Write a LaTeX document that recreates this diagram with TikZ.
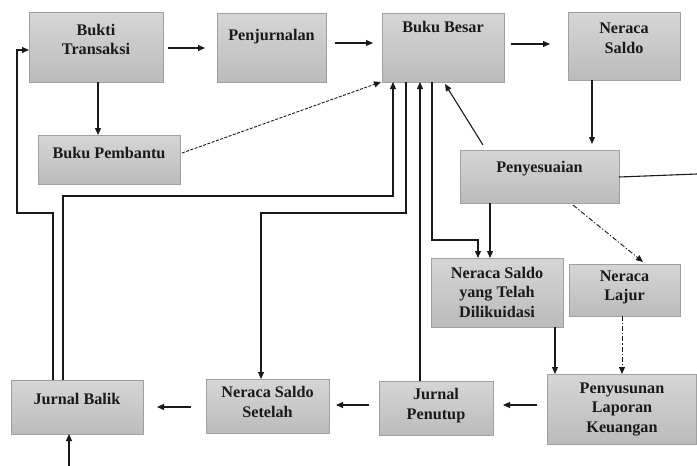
\documentclass[tikz,border=0pt]{standalone}
\usepackage{fontspec}
\setmainfont{Liberation Serif}
\usetikzlibrary{arrows.meta,calc}
\definecolor{ln}{HTML}{1A1A1A}
\definecolor{bxd}{HTML}{A0A0A0}
\definecolor{bxt}{HTML}{D6D6D6}
\definecolor{bxb}{HTML}{BBBBBB}
\tikzset{
  boxst/.style={draw=bxd, line width=0.6pt, top color=bxt, bottom color=bxb, inner sep=0pt, outer sep=0pt},
  txt/.style={align=center, text=ln, font=\fontsize{16.2}{19.5}\selectfont\bfseries, inner sep=0pt},
  arr/.style={draw=ln, line width=1.1pt, -{Triangle[length=7pt,width=6pt]}},
  ln1/.style={draw=ln, line width=1.1pt},
  dsh/.style={arr, line width=0.9pt, dash pattern=on 3pt off 1.5pt},
  dd/.style={arr, line width=0.9pt, dash pattern=on 5pt off 2pt on 1.2pt off 2pt}
}
\begin{document}
\begin{tikzpicture}[x=1pt,y=-1pt]
\useasboundingbox (0,0) rectangle (697,466);
% boxes
\node[boxst, minimum width=134pt, minimum height=70pt] (bt) at (96,47) {};
\node[boxst, minimum width=109pt, minimum height=69pt] (pj) at (271.5,47.5) {};
\node[boxst, minimum width=122pt, minimum height=69pt] (bb) at (443,47.5) {};
\node[boxst, minimum width=112pt, minimum height=68pt] (ns) at (624,46) {};
\node[boxst, minimum width=142pt, minimum height=49pt] (bp) at (109,159.5) {};
\node[boxst, minimum width=159pt, minimum height=53pt] (py) at (539.5,176.5) {};
\node[boxst, minimum width=132pt, minimum height=69pt] (nstd) at (497,292.5) {};
\node[boxst, minimum width=111pt, minimum height=52pt] (nl) at (624.5,290) {};
\node[boxst, minimum width=149pt, minimum height=70pt] (plk) at (621.5,409) {};
\node[boxst, minimum width=114pt, minimum height=54pt] (jp) at (436,408) {};
\node[boxst, minimum width=123pt, minimum height=54pt] (nss) at (267.5,406) {};
\node[boxst, minimum width=132pt, minimum height=54pt] (jb) at (77,407) {};
% texts
\node[txt] (bt-t) at (96,39.5) {Bukti\\Transaksi};
\node[txt] (pj-t) at (271.5,37) {Penjurnalan};
\node[txt] (bb-t) at (443,27) {Buku Besar};
\node[txt] (ns-t) at (624,38.5) {Neraca\\Saldo};
\node[txt] (bp-t) at (109,153) {Buku Pembantu};
\node[txt] (py-t) at (539.5,169) {Penyesuaian};
\node[txt] (nstd-t) at (497,292) {Neraca Saldo\\yang Telah\\Dilikuidasi};
\node[txt] (nl-t) at (624.5,287.5) {Neraca\\Lajur};
\node[txt] (plk-t) at (622,409) {Penyusunan\\Laporan\\Keuangan};
\node[txt] (jp-t) at (436,405.5) {Jurnal\\Penutup};
\node[txt] (nss-t) at (267.5,402) {Neraca Saldo\\Setelah};
\node[txt] (jb-t) at (77,399) {Jurnal Balik};
% free ends, start points and bends
\coordinate (pyr) at (697,174);
\coordinate (jbin) at (69,466);
\coordinate (s1) at ($(bt.south)+(2,0)$);
\coordinate (s2) at ($(ns.south)+(-32,0)$);
\coordinate (s3) at ($(py.south)+(-49.5,0)$);
\coordinate (s4) at ($(nl.south)+(-2.5,0)$);
\coordinate (s5) at ($(nstd.south)+(58,0)$);
\coordinate (s6) at ($(jp.north)+(-16,0)$);
\coordinate (a1) at (53,213);
\coordinate (a2) at (17,213);
\coordinate (a3) at (17,50);
\coordinate (b1) at (63,196);
\coordinate (b2) at (393,196);
\coordinate (c1) at (406,213);
\coordinate (c2) at (261,213);
\coordinate (e1) at (432,240);
\coordinate (e2) at (478,240);
% connectors
\draw[arr] ($(bt.east)+(5,1)$) -- ($(pj.west)+(-12,0.5)$);
\draw[arr] ($(pj.east)+(9,-4.5)$) -- ($(bb.west)+(-9,-4.5)$);
\draw[arr] ($(bb.east)+(7,-3.5)$) -- ($(ns.west)+(-18,-2)$);
\draw[arr] (s1) -- (s1 |- bp.north);
\draw[dsh] ($(bp.east)+(2,-6.5)$) -- ($(bb.south west)+(-1,0)$);
\draw[arr, shorten >=6pt] (s2) -- (s2 |- py.north);
\draw[arr] ($(py.north west)+(23,-5)$) -- ($(bb.south)+(2,2)$);
\draw[ln1] ($(py.east)+(0,0.5)$) -- (pyr);
\draw[arr] (s3) -- (s3 |- nstd.north);
\draw[arr] ($(bb.south)+(-11,0)$) -- (e1) -- (e2) -- (e2 |- nstd.north);
\draw[dd] ($(py.south)+(33.5,2)$) -- ($(nl.north)+(18.5,-2)$);
\draw[dd] (s4) -- (s4 |- plk.north);
\draw[arr] (s5) -- (s5 |- plk.north);
\draw[arr] ($(plk.west)+(-10,-4)$) -- ($(jp.east)+(10,-3)$);
\draw[arr] ($(jp.west)+(-10,-3)$) -- ($(nss.east)+(7,-1)$);
\draw[arr] ($(nss.west)+(-15,1)$) -- ($(jb.east)+(14,0)$);
\draw[arr] (jbin) -- (jbin |- jb.south);
\draw[arr] ($(jb.north)+(-24,0)$) -- (a1) -- (a2) -- (a3) -- (a3 -| bt.west);
\draw[arr] ($(jb.north)+(-14,0)$) -- (b1) -- (b2) -- (b2 |- bb.south);
\draw[arr] ($(bb.south)+(-37,0)$) -- (c1) -- (c2) -- (c2 |- nss.north);
\draw[arr] (s6) -- (s6 |- bb.south);
\end{tikzpicture}
\end{document}
